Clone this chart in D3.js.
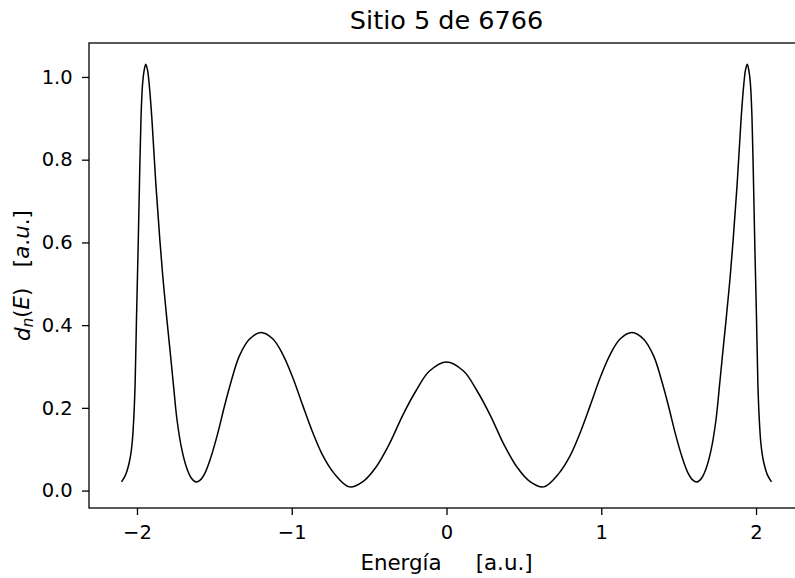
<!DOCTYPE html>
<html>
<head>
<meta charset="utf-8">
<script src="https://cdn.jsdelivr.net/npm/d3@7"></script>
<style>
  body { margin: 0; background: #fff; }
  svg { display: block; font-family: "DejaVu Sans", sans-serif; }
</style>
</head>
<body>
<div id="chart"></div>
<script>
// Energies (a.u.)
const energies = [
  -2.100, -2.080, -2.065, -2.050, -2.040, -2.030, -2.020, -2.012, -2.003, -1.993,
  -1.984, -1.974, -1.964, -1.953, -1.943, -1.932, -1.921, -1.904, -1.878, -1.852,
  -1.830, -1.806, -1.784, -1.763, -1.741, -1.709, -1.677, -1.648, -1.619, -1.590,
  -1.560, -1.522, -1.479, -1.436, -1.393, -1.339, -1.274, -1.199, -1.123, -1.059,
  -0.994, -0.929, -0.865, -0.800, -0.725, -0.628, -0.542, -0.455, -0.369, -0.283,
  -0.196, -0.110,
  0.000,
  0.110, 0.196,
  0.283, 0.369, 0.455, 0.542, 0.628, 0.725, 0.800, 0.865, 0.929, 0.994,
  1.059, 1.123, 1.199, 1.274, 1.339, 1.393, 1.436, 1.479, 1.522, 1.560,
  1.590, 1.619, 1.648, 1.677, 1.709, 1.741, 1.763, 1.784, 1.806, 1.830,
  1.852, 1.878, 1.904, 1.921, 1.932, 1.943, 1.953, 1.964, 1.974, 1.984,
  1.993, 2.003, 2.012, 2.020, 2.030, 2.040, 2.050, 2.065, 2.080, 2.100
];

// Local density of states d_n(E) at each energy
const density = [
  0.021, 0.033, 0.047, 0.068, 0.088, 0.120, 0.180, 0.258, 0.419, 0.580,
  0.741, 0.901, 0.982, 1.017, 1.031, 1.017, 0.982, 0.901, 0.741, 0.605,
  0.505, 0.411, 0.330, 0.250, 0.170, 0.097, 0.053, 0.030, 0.021, 0.026,
  0.043, 0.081, 0.137, 0.202, 0.262, 0.325, 0.366, 0.382, 0.367, 0.330,
  0.274, 0.206, 0.141, 0.085, 0.041, 0.009, 0.021, 0.057, 0.113, 0.182,
  0.242, 0.289,
  0.311,
  0.289, 0.242,
  0.182, 0.113, 0.057, 0.021, 0.009, 0.041, 0.085, 0.141, 0.206, 0.274,
  0.330, 0.367, 0.382, 0.366, 0.325, 0.262, 0.202, 0.137, 0.081, 0.043,
  0.026, 0.021, 0.030, 0.053, 0.097, 0.170, 0.250, 0.330, 0.411, 0.505,
  0.605, 0.741, 0.901, 0.982, 1.017, 1.031, 1.017, 0.982, 0.901, 0.741,
  0.580, 0.419, 0.258, 0.180, 0.120, 0.088, 0.068, 0.047, 0.033, 0.021
];

const xTicks = [-2, -1, 0, 1, 2];
const yTicks = [0.0, 0.2, 0.4, 0.6, 0.8, 1.0];

const width = 795;
const height = 578;
// right edge of the axes lies past the cropped picture
const margin = { top: 43, right: -9, bottom: 70, left: 89 };
const tickFont = 19.5;
const labelFont = 21.4;

const svg = d3.select('#chart').append('svg')
  .attr('width', width)
  .attr('height', height);

const points = energies.map((e, i) => ({ e: e, d: density[i] }));

// matplotlib-like 5% margins around the data
function padded(ext) {
  const span = ext[1] - ext[0];
  return [ext[0] - span * 0.05, ext[1] + span * 0.05];
}

const x = d3.scaleLinear()
  .domain(padded(d3.extent(energies)))
  .range([margin.left, width - margin.right]);

const y = d3.scaleLinear()
  .domain(padded(d3.extent(density)))
  .range([height - margin.bottom, margin.top]);

const line = d3.line()
  .x(d => x(d.e))
  .y(d => y(d.d))
  .curve(d3.curveCatmullRom.alpha(0.5));

svg.append('path')
  .datum(points)
  .attr('fill', 'none')
  .attr('stroke', '#000')
  .attr('stroke-width', 1.5)
  .attr('d', line);

// Axes frame
svg.append('rect')
  .attr('x', margin.left)
  .attr('y', margin.top)
  .attr('width', width - margin.right - margin.left)
  .attr('height', height - margin.bottom - margin.top)
  .attr('fill', 'none')
  .attr('stroke', '#000')
  .attr('stroke-width', 1.3);

// x axis
const gx = svg.append('g')
  .attr('transform', `translate(0,${height - margin.bottom})`)
  .call(d3.axisBottom(x)
    .tickValues(xTicks)
    .tickFormat(d3.format('d'))
    .tickSize(7)
    .tickSizeOuter(0)
    .tickPadding(10.5));

// y axis
const gy = svg.append('g')
  .attr('transform', `translate(${margin.left},0)`)
  .call(d3.axisLeft(y)
    .tickValues(yTicks)
    .tickFormat(d3.format('.1f'))
    .tickSize(7)
    .tickSizeOuter(0)
    .tickPadding(9.3));

[gx, gy].forEach(g => {
  g.select('.domain').remove();
  g.selectAll('.tick line').attr('stroke', '#000').attr('stroke-width', 1.3);
  g.selectAll('.tick text')
    .attr('fill', '#000')
    .style('font-family', '"DejaVu Sans", sans-serif')
    .style('font-size', tickFont + 'px');
});

// Title
svg.append('text')
  .attr('x', (margin.left + width - margin.right) / 2)
  .attr('y', 29)
  .attr('text-anchor', 'middle')
  .style('font-size', '25.5px')
  .attr('fill', '#000')
  .text('Sitio 5 de 6766');

// x label
svg.append('text')
  .attr('x', (margin.left + width - margin.right) / 2)
  .attr('y', 570)
  .attr('text-anchor', 'middle')
  .style('font-size', labelFont + 'px')
  .style('white-space', 'pre')
  .attr('fill', '#000')
  .text('Energía     [a.u.]');

// y label (math style)
const ylab = svg.append('text')
  .attr('transform', `translate(29.5,${(margin.top + height - margin.bottom) / 2}) rotate(-90)`)
  .attr('text-anchor', 'middle')
  .style('font-size', labelFont + 'px')
  .style('white-space', 'pre')
  .attr('fill', '#000');

const parts = [
  ['d', true, false], ['n', true, true], ['(', false, false], ['E', true, false],
  [')', false, false], ['   ', false, false], ['[', false, false], ['a', true, false],
  ['.', false, false], ['u', true, false], ['.', false, false], [']', false, false]
];
parts.forEach(p => {
  const t = ylab.append('tspan')
    .style('font-style', p[1] ? 'italic' : 'normal')
    .text(p[0]);
  if (p[2]) {
    t.style('font-size', '15px').attr('dy', '0.25em');
  }
  if (p[0] === '(') {
    t.attr('dy', '-0.18em');
  }
});
</script>
</body>
</html>
